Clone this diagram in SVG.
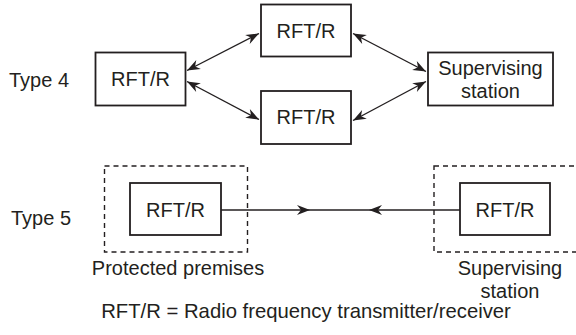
<svg xmlns="http://www.w3.org/2000/svg" width="576" height="335" viewBox="0 0 576 335">
<defs>
<style>
text{font-family:"Liberation Sans",Arial,sans-serif;font-size:20px;fill:#231f20}
.box{fill:#fff;stroke:#231f20;stroke-width:1.8}
.dash{fill:none;stroke:#231f20;stroke-width:1.4;stroke-dasharray:5,4}
.con{fill:none;stroke:#231f20;stroke-width:1.4}
.ah{fill:#231f20;stroke:none}
</style>
<marker id="arr" markerUnits="userSpaceOnUse" markerWidth="16" markerHeight="14" viewBox="-14 -7 15 14" refX="0" refY="0" orient="auto-start-reverse">
<path d="M0,0 L-13,-5 L-9,0 L-13,5 Z" fill="#231f20"/>
</marker>
</defs>
<rect width="576" height="335" fill="#fff"/>
<text x="9" y="86.5">Type 4</text>
<text x="11" y="224.5">Type 5</text>
<g id="connectors">
<line class="con" x1="187" y1="70.5" x2="259" y2="33.5" marker-start="url(#arr)" marker-end="url(#arr)"/>
<line class="con" x1="187" y1="81.5" x2="259" y2="119.5" marker-start="url(#arr)" marker-end="url(#arr)"/>
<line class="con" x1="353" y1="33.5" x2="426" y2="71.5" marker-start="url(#arr)" marker-end="url(#arr)"/>
<line class="con" x1="353" y1="120.5" x2="426" y2="81.5" marker-start="url(#arr)" marker-end="url(#arr)"/>
<line class="con" x1="221" y1="210" x2="460" y2="210"/>
<path class="ah" d="M310,210 L297,205 L301,210 L297,215 Z"/>
<path class="ah" d="M369,210 L382,205 L378,210 L382,215 Z"/>
</g>
<g id="t4-left">
<rect class="box" x="95.5" y="52.5" width="90" height="53"/>
<text x="140.5" y="86" text-anchor="middle">RFT/R</text>
</g>
<g id="t4-top">
<rect class="box" x="261" y="4.5" width="90" height="52"/>
<text x="306" y="37.5" text-anchor="middle">RFT/R</text>
</g>
<g id="t4-bottom">
<rect class="box" x="261" y="91" width="90" height="53"/>
<text x="306" y="124" text-anchor="middle">RFT/R</text>
</g>
<g id="t4-supervising">
<rect class="box" x="428" y="52.5" width="125" height="53"/>
<text x="490.5" y="75" text-anchor="middle">Supervising</text>
<text x="490.5" y="97.5" text-anchor="middle">station</text>
</g>
<g id="t5-protected">
<rect class="dash" x="104.5" y="166" width="143" height="86"/>
<rect class="box" x="130" y="183" width="91" height="52"/>
<text x="175.5" y="216.5" text-anchor="middle">RFT/R</text>
<text x="178" y="275" text-anchor="middle">Protected premises</text>
</g>
<g id="t5-supervising">
<rect class="dash" x="434" y="166" width="150" height="86"/>
<rect class="box" x="460" y="183" width="90" height="52"/>
<text x="505" y="216.5" text-anchor="middle">RFT/R</text>
<text x="510" y="275" text-anchor="middle">Supervising</text>
<text x="510" y="297.5" text-anchor="middle">station</text>
</g>
<text x="306" y="318" text-anchor="middle" style="font-size:20.3px">RFT/R = Radio frequency transmitter/receiver</text>
</svg>
